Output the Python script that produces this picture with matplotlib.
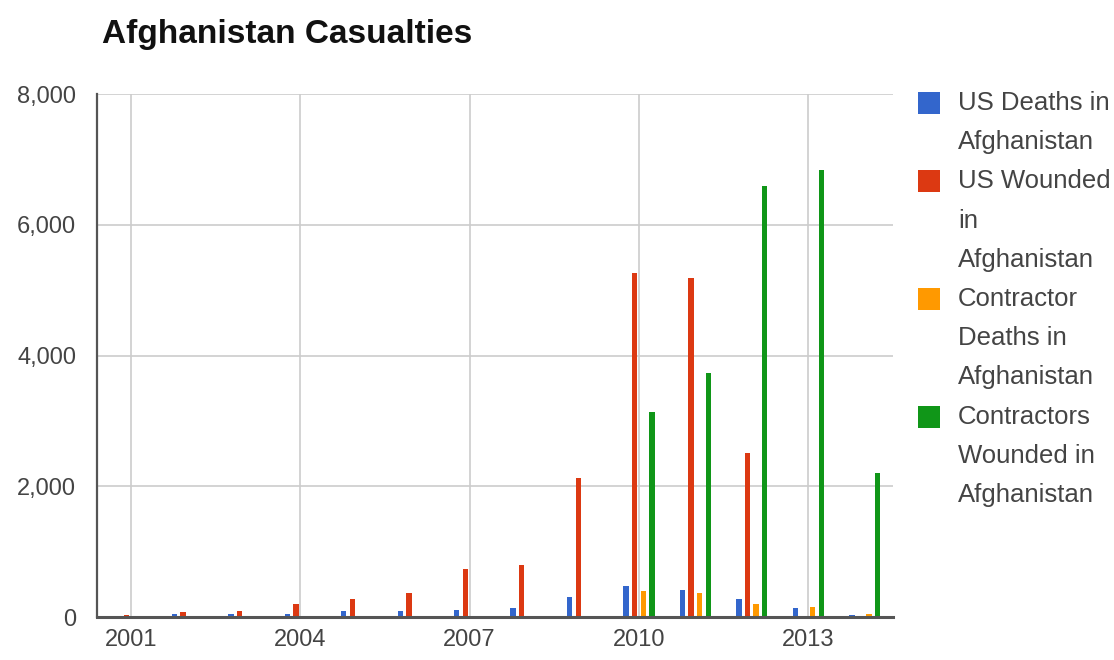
import numpy as np
import matplotlib.pyplot as plt
from matplotlib.patches import Rectangle

plt.rcParams['font.family'] = ['Liberation Sans', 'DejaVu Sans']

# data
years = np.arange(2001, 2015)
us_deaths = [12, 49, 45, 45, 92, 95, 110, 140, 306, 474, 413, 275, 138, 30]
us_wounded = [30, 74, 92, 199, 270, 367, 734, 795, 2126, 5262, 5185, 2508, 0, 0]
contractor_deaths = [0, 0, 0, 0, 0, 0, 0, 0, 0, 398, 367, 199, 153, 40]
contractor_wounded = [0, 0, 0, 0, 0, 0, 0, 0, 0, 3136, 3732, 6590, 6837, 2203]

series = [us_deaths, us_wounded, contractor_deaths, contractor_wounded]
labels = [['US Deaths in', 'Afghanistan'],
          ['US Wounded', 'in', 'Afghanistan'],
          ['Contractor', 'Deaths in', 'Afghanistan'],
          ['Contractors', 'Wounded in', 'Afghanistan']]
colors = ['#3366cc', '#dc3912', '#ff9900', '#109618']

W, H = 1114, 660
fig = plt.figure(figsize=(W / 100, H / 100), dpi=100)
ax = fig.add_axes([97 / W, 43 / H, 796 / W, 523 / H])

step = 0.152
width = 0.095
for i, vals in enumerate(series):
    ax.bar(years + (i - 1.5) * step, vals, width=width, color=colors[i], zorder=3)

ax.set_xlim(2000.4, 2014.5)
ax.set_ylim(0, 8000)
ax.set_xticks([2001, 2004, 2007, 2010, 2013])
ax.set_yticks([0, 2000, 4000, 6000, 8000])
ax.set_yticklabels(['0', '2,000', '4,000', '6,000', '8,000'])
ax.tick_params(length=0, labelsize=17, colors='#444444')
ax.tick_params(axis='x', pad=9)
ax.tick_params(axis='y', pad=15)
ax.grid(True, color='#cccccc', linewidth=1.2, zorder=0)
for s in ['top', 'right']:
    ax.spines[s].set_visible(False)
ax.spines['left'].set_color('#555555')
ax.spines['left'].set_linewidth(1.6)
ax.spines['bottom'].set_color('#555555')
ax.spines['bottom'].set_linewidth(2.2)
ax.spines['bottom'].set_zorder(4)

fig.text(102 / W, 1 - 35 / H, 'Afghanistan Casualties', fontsize=24,
         fontweight='bold', color='#111111', va='center')

# legend drawn by hand so the swatch lines up with the first line of text
line_h = 39.2
k = 0
for c, lines in zip(colors, labels):
    y0 = 103 + k * line_h
    fig.patches.append(Rectangle((918 / W, 1 - (y0 + 11) / H), 22 / W, 22 / H,
                                 facecolor=c, transform=fig.transFigure))
    for line in lines:
        fig.text(958 / W, 1 - (103 + k * line_h) / H, line, fontsize=18.5,
                 color='#444444', va='center', ha='left')
        k += 1

fig.savefig('out.png', dpi=100, facecolor='white')
